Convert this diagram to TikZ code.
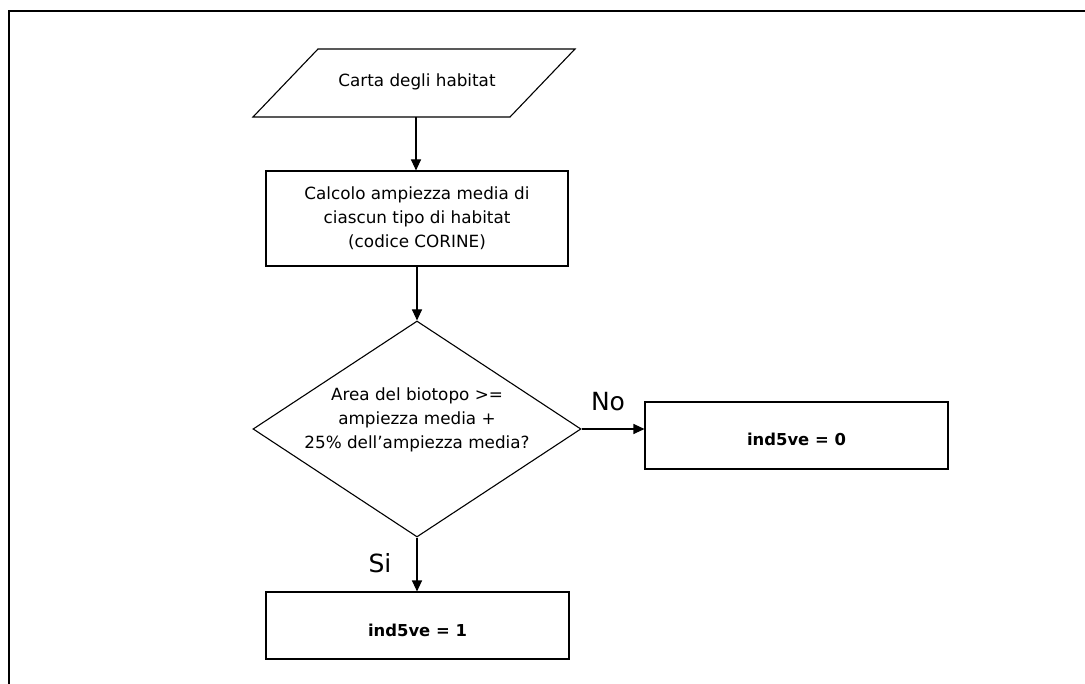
\documentclass[tikz,border=0pt]{standalone}
\usepackage{fontspec}
\setmainfont{DejaVu Sans}
\usetikzlibrary{shapes.geometric,arrows.meta,calc}
\begin{document}
\begin{tikzpicture}[x=1pt,y=-1pt,
  every node/.style={font=\fontsize{16.8}{24}\selectfont, align=center, inner sep=0pt},
  box/.style={draw, line width=1.1pt, rectangle},
  resbox/.style={box, minimum width=303pt, minimum height=67pt, font=\fontsize{16.4}{24}\selectfont\bfseries, text height=21pt, text depth=0pt},
  arr/.style={line width=1.1pt, -{Triangle[length=11pt,width=10pt]}},
  lbl/.style={font=\fontsize{25}{28}\selectfont}]
\useasboundingbox (0,0) rectangle (1085,684);
\draw[line width=1.4pt] (9,684) -- (9,11) -- (1085,11);
\coordinate (p1) at (253,117);
\coordinate (p2) at (318,49);
\coordinate (p3) at (575,49);
\coordinate (p4) at (510,117);
\draw[line width=1.1pt, line join=miter] (p1) -- (p2) -- (p3) -- (p4) -- cycle;
\node at (417,82) (in) {Carta degli habitat};
\coordinate (inbot) at (416,117);
\node[box, minimum width=302pt, minimum height=95pt] (calc) at (417,218.5)
  {Calcolo ampiezza media di\\ciascun tipo di habitat\\(codice CORINE)};
\node[draw, line width=1.1pt, diamond, aspect=1.52, minimum width=328pt, minimum height=216pt] (dec) at (417,429) {};
\node (dectxt) at (417,420) {Area del biotopo >=\\ampiezza media +\\25\% dell’ampiezza media?};
\node[resbox] (no) at (796.5,435.5) {ind5ve = 0};
\node[resbox] (si) at (417.5,625.5) {ind5ve = 1};
\draw[arr] (inbot) -- (inbot |- calc.north);
\draw[arr] (calc.south) -- (dec.north);
\draw[arr] (dec.east) -- (dec.east -| no.west);
\draw[arr] (dec.south) -- (dec.south |- si.north);
\node[lbl] (nolbl) at (608,402) {No};
\node[lbl] (silbl) at (380,563) {Si};
\end{tikzpicture}
\end{document}
